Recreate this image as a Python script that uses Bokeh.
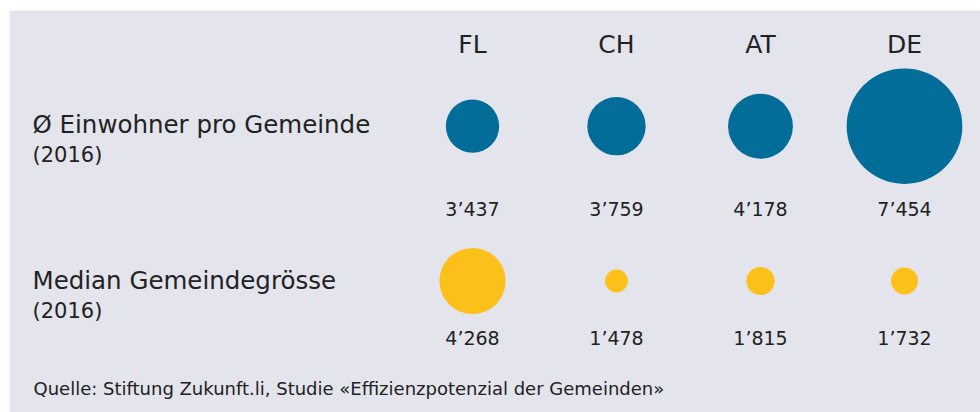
from bokeh.plotting import figure
from bokeh.models import Range1d, ColumnDataSource
from bokeh.core.properties import value
from bokeh.embed import file_html
from bokeh.resources import INLINE

# ---- data ----
countries = ["FL", "CH", "AT", "DE"]
einwohner = [3437, 3759, 4178, 7454]          # Ø Einwohner pro Gemeinde (2016)
median = [4268, 1478, 1815, 1732]             # Median Gemeindegrösse (2016)
einwohner_labels = ["3’437", "3’759", "4’178", "7’454"]
median_labels = ["4’268", "1’478", "1’815", "1’732"]
row_labels = ["Ø Einwohner pro Gemeinde", "Median Gemeindegrösse"]
row_years = ["(2016)", "(2016)"]
source_note = "Quelle: Stiftung Zukunft.li, Studie «Effizienzpotenzial der Gemeinden»"

# ---- style / layout ----
FONT = value("DejaVu Sans")
TEXT = "#222222"
BLUE = "#026d98"
YELLOW = "#fbc11a"
BG = "#e3e4ec"
PX_PER_UNIT = 115.7 / 7454.0   # circle diameter (px) per inhabitant

W, H = 980, 412
ML, MT = 9, 10
FW, FH = W - ML, H - MT
step = 144.0
x_start = -463.0 / step
x_end = x_start + FW / step
TY = -7.0   # baseline correction for svg text

idx = list(range(len(countries)))

p = figure(width=W, height=H, output_backend="svg", toolbar_location=None,
           x_range=Range1d(x_start, x_end), y_range=Range1d(FH, 0),
           x_axis_type=None, y_axis_type=None,
           min_border_left=ML, min_border_right=0, min_border_top=MT, min_border_bottom=0)
p.background_fill_color = BG
p.border_fill_color = "white"
p.outline_line_color = None
p.grid.visible = False

src = ColumnDataSource(dict(
    x=idx, country=countries,
    ein=einwohner, med=median,
    ein_size=[v * PX_PER_UNIT for v in einwohner],
    med_size=[v * PX_PER_UNIT for v in median],
    ein_lbl=einwohner_labels, med_lbl=median_labels,
))

# headers
p.text(x="x", y=41 + TY, text="country", source=src, text_font=FONT, text_font_size="25px",
       text_color=TEXT, text_align="center", text_baseline="alphabetic")

# bubbles
p.scatter(x="x", y=115.7, size="ein_size", source=src, marker="circle",
          fill_color=BLUE, line_color=None)
p.scatter(x="x", y=270.5, size="med_size", source=src, marker="circle",
          fill_color=YELLOW, line_color=None)

# value labels
p.text(x="x", y=205 + TY, text="ein_lbl", source=src, text_font=FONT, text_font_size="19px",
       text_color=TEXT, text_align="center", text_baseline="alphabetic")
p.text(x="x", y=334.3 + TY, text="med_lbl", source=src, text_font=FONT, text_font_size="19px",
       text_color=TEXT, text_align="center", text_baseline="alphabetic")

# row labels
lx = x_start + 23.0 / step
p.text(x=[lx, lx], y=[121 + TY, 277.3 + TY], text=row_labels, text_font=FONT,
       text_font_size="24.5px", text_color=TEXT, text_align="left", text_baseline="alphabetic")
p.text(x=[lx, lx], y=[151.7 + TY, 307.6 + TY], text=row_years, text_font=FONT,
       text_font_size="21px", text_color=TEXT, text_align="left", text_baseline="alphabetic")

# source
p.text(x=[x_start + 24.0 / step], y=[385 + TY], text=[source_note], text_font=FONT,
       text_font_size="18px", text_color=TEXT, text_align="left", text_baseline="alphabetic")

open("out.html", "w").write(file_html(p, INLINE))
